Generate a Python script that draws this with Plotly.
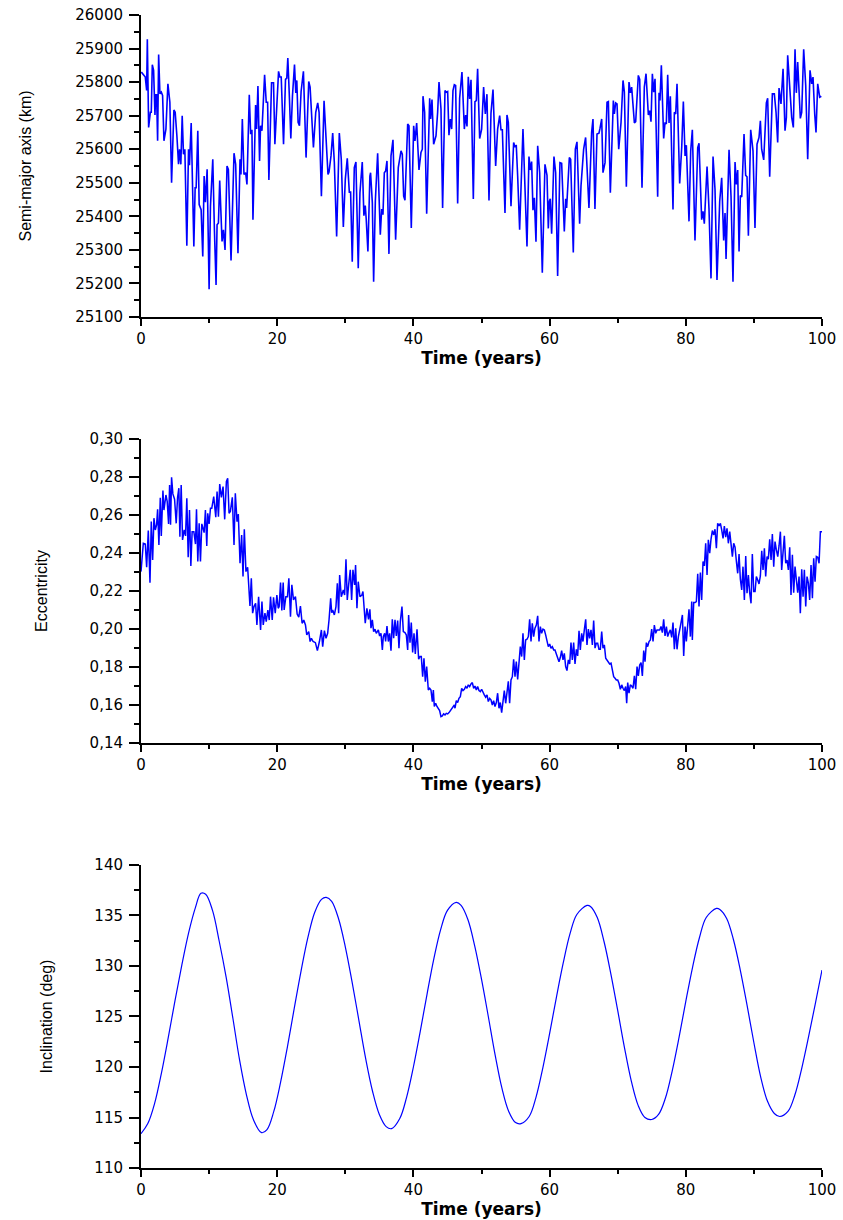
import plotly.graph_objects as go

# ---------------- Semi-major axis (km) ----------------
t_a1 = [0.05,0.63,0.83,0.93,1.12,1.37,1.51,1.66,1.85,2.05,
        2.15,2.29,2.44,2.59,2.78,2.98,3.17,3.37,3.66,3.95,
        4.24,4.49,4.83,5.02,5.27,5.51,5.66,5.85,6.05,6.24,
        6.44,6.73,6.98,7.12,7.37,7.56,7.76,7.95,8.10,8.34,
        8.54,8.83,9.07,9.27,9.46,9.71,10.0,10.2,10.54,10.78,
        11.02,11.17,11.37,11.56,11.9,12.1,12.34,12.63,12.83,13.22,
        13.66,13.9,14.24,14.54,14.68,14.88,15.12,15.37,15.56,15.9,
        16.1,16.29,16.44,16.83,16.98,17.17,17.41,17.56,17.76,18.15,
        18.39,18.59,18.78,19.17,19.46,19.66,19.95,20.2,20.39,20.59,
        20.93,21.22,21.41,21.56,21.8,22.0,22.24,22.54,22.73,22.88,
        23.07,23.27,23.51,23.85,24.24,24.63,24.83,25.02,25.32,25.66,
        25.95,26.15,26.49,26.88,27.17,27.46,27.61,27.9,28.15,28.39,
        28.73,29.12,29.41,29.71,30.0,30.29,30.59,30.78,31.02,31.32,
        31.56,31.9,32.15,32.49,32.73,32.93,33.07,33.32,33.61,33.71]
a_km1 = [25830,25815,25775,25928,25665,25710,25710,25852,25835,25702,
         25762,25762,25625,25882,25765,25770,25760,25625,25660,25795,
         25740,25500,25717,25710,25640,25555,25600,25555,25700,25585,
         25600,25312,25600,25552,25678,25520,25310,25485,25485,25655,
         25435,25420,25280,25520,25442,25540,25183,25430,25570,25360,
         25195,25375,25380,25507,25325,25360,25300,25550,25540,25268,
         25588,25555,25290,25570,25525,25690,25525,25530,25495,25762,
         25645,25658,25390,25732,25660,25788,25565,25670,25655,25822,
         25740,25740,25508,25798,25798,25615,25746,25832,25815,25815,
         25615,25808,25812,25872,25750,25632,25758,25852,25768,25805,
         25680,25670,25772,25832,25575,25802,25785,25700,25605,25710,
         25738,25710,25460,25744,25620,25525,25532,25580,25648,25560,
         25340,25648,25570,25368,25510,25573,25472,25472,25265,25545,
         25562,25245,25470,25562,25402,25432,25392,25295,25520,25530]

t_a2 = [33.97,34.16,34.41,34.75,35.14,35.34,35.53,35.73,35.92,36.12,
        36.41,36.71,37.0,37.39,37.78,38.18,38.37,38.57,38.76,39.16,
        39.35,39.69,40.04,40.23,40.48,40.82,41.11,41.31,41.41,41.65,
        41.95,42.39,42.53,42.73,42.97,43.32,43.56,43.76,44.05,44.29,
        44.64,44.83,45.03,45.22,45.42,45.62,45.81,46.01,46.2,46.5,
        46.79,47.13,47.48,47.67,47.87,48.06,48.26,48.46,48.8,49.04,
        49.24,49.43,49.73,50.02,50.31,50.56,50.8,51.1,51.39,51.69,
        52.08,52.37,52.67,52.86,53.06,53.45,53.74,53.94,54.33,54.72,
        54.92,55.11,55.31,55.6,56.09,56.38,56.68,56.97,57.17,57.36,
        57.56,57.76,58.0,58.25,58.54,58.93,59.32,59.62,59.81,59.96,
        60.1,60.3,60.64,60.89,61.18,61.52,61.77,62.16,62.36,62.5,
        62.9,63.09,63.48,63.78,64.02,64.41,64.61,65.0,65.29,65.78,
        66.17,66.37,66.66,66.96,67.25,67.4]
a_km2 = [25440,25205,25445,25588,25345,25422,25405,25530,25535,25565,
         25288,25580,25628,25330,25545,25595,25585,25460,25448,25675,
         25670,25365,25670,25625,25678,25538,25590,25600,25758,25710,
         25408,25752,25690,25748,25615,25640,25710,25800,25720,25425,
         25775,25770,25772,25642,25690,25660,25775,25792,25790,25438,
         25752,25830,25660,25702,25668,25816,25750,25807,25452,25742,
         25745,25840,25632,25660,25785,25705,25764,25447,25707,25778,
         25550,25660,25700,25658,25658,25410,25702,25680,25430,25620,
         25608,25610,25520,25360,25660,25505,25310,25578,25538,25563,
         25418,25455,25324,25610,25530,25232,25555,25522,25364,25445,
         25452,25348,25578,25530,25222,25560,25558,25355,25452,25425,
         25575,25570,25292,25600,25622,25378,25490,25600,25635,25425,
         25650,25690,25422,25645,25648,25662]

t_a3 = [67.65,67.84,68.14,68.43,68.63,68.92,69.36,69.51,69.7,69.9,
        70.15,70.49,70.78,70.98,71.27,71.66,71.86,72.05,72.45,72.64,
        73.03,73.23,73.57,73.91,74.16,74.5,74.7,74.89,75.09,75.28,
        75.48,75.87,76.07,76.21,76.41,76.75,76.95,77.14,77.34,77.54,
        77.73,78.12,78.32,78.52,78.71,79.1,79.4,79.64,79.89,80.08,
        80.47,80.72,80.96,81.35,81.75,81.94,82.33,82.53,82.72,83.12,
        83.41,83.7,84.0,84.29,84.58,84.98,85.27,85.56,85.76,85.91,
        86.35,86.64,86.93,87.23,87.42,87.62,87.82,88.01,88.21,88.55,
        88.79,88.99,89.19,89.53,89.87,90.16,90.46,90.75,90.95,91.14,
        91.44,91.83,92.02,92.32,92.71,93.0,93.25,93.49,93.69,93.98,
        94.28,94.57,94.77,94.96,95.26,95.55,95.79,96.04,96.23,96.43,
        96.82,97.02,97.31,97.61,97.9,98.24,98.49,98.68,98.93,99.12,
        99.37,99.66,99.9]
a_km3 = [25690,25530,25560,25740,25742,25470,25745,25705,25738,25735,
         25600,25680,25805,25770,25488,25800,25768,25785,25678,25682,
         25820,25808,25485,25785,25825,25702,25715,25682,25825,25770,
         25810,25458,25768,25745,25850,25632,25680,25675,25822,25678,
         25758,25420,25710,25705,25795,25498,25605,25742,25580,25612,
         25385,25595,25658,25328,25605,25618,25390,25415,25378,25548,
         25420,25215,25578,25480,25210,25445,25515,25328,25410,25273,
         25598,25460,25205,25562,25495,25538,25295,25462,25458,25645,
         25522,25518,25342,25658,25595,25365,25615,25635,25685,25600,
         25568,25738,25752,25518,25765,25765,25710,25620,25782,25735,
         25840,25655,25695,25880,25770,25695,25665,25898,25768,25860,
         25692,25710,25898,25790,25570,25835,25795,25815,25705,25650,
         25795,25755,25758]

# ---------------- Eccentricity ----------------
t_e1 = [0.0,0.34,0.63,0.83,1.07,1.32,1.51,1.71,1.90,2.10,
        2.29,2.44,2.63,2.83,2.98,3.22,3.37,3.66,3.85,4.05,
        4.20,4.34,4.49,4.68,4.93,5.17,5.37,5.56,5.71,5.90,
        6.10,6.34,6.54,6.73,6.93,7.12,7.32,7.51,7.76,8.00,
        8.15,8.34,8.54,8.73,8.93,9.12,9.27,9.46,9.66,9.80,
        10.0,10.2,10.39,10.68,10.98,11.17,11.37,11.56,11.80,12.05,
        12.29,12.54,12.73,12.93,13.12,13.41,13.66,13.85,14.10,14.29,
        14.54,14.78,14.98,15.17,15.41,15.66,16.0,16.20,16.39,16.59,
        16.83,17.02,17.27,17.56,17.76,17.95,18.20,18.39,18.63,18.83,
        19.02,19.27,19.46,19.71,19.95,20.15,20.29,20.49,20.68,20.88,
        21.02,21.27,21.51,21.71,21.95,22.15,22.39,22.68,22.93,23.17,
        23.41,23.66,23.90,24.15,24.34,24.63,24.83,25.02,25.27,25.61,
        25.90,26.20,26.49,26.68,26.93,27.17,27.41,27.61,27.85,28.0,
        28.15,28.39,28.63,28.83,29.02,29.17,29.41,29.71,29.90,30.10,
        30.29,30.49,30.73,30.93,31.12,31.37,31.51,31.71,31.90,32.15,
        32.44,32.59,32.78,32.93,33.17,33.41,33.61]
ecc1 = [0.2302,0.2451,0.2447,0.2325,0.2518,0.2244,0.2565,0.2363,0.2583,0.2521,
        0.2548,0.2630,0.2442,0.2691,0.2490,0.2728,0.2626,0.2705,0.2670,0.2553,
        0.2758,0.2548,0.2798,0.2711,0.2683,0.2556,0.2693,0.2741,0.2486,0.2758,
        0.2469,0.2521,0.2490,0.2688,0.2377,0.2626,0.2332,0.2512,0.2512,0.2447,
        0.2630,0.2355,0.2556,0.2355,0.2553,0.2530,0.2507,0.2626,0.2437,0.2609,
        0.2553,0.2635,0.2635,0.2697,0.2588,0.2723,0.2591,0.2763,0.2693,0.2749,
        0.2577,0.2776,0.2793,0.2609,0.2618,0.2693,0.2442,0.2714,0.2565,0.2605,
        0.2346,0.2495,0.2276,0.2525,0.2302,0.2325,0.2121,0.2267,0.2083,0.2118,
        0.2135,0.2021,0.2170,0.1995,0.2144,0.2021,0.2083,0.2039,0.2100,0.2047,
        0.2170,0.2047,0.2167,0.2083,0.2179,0.2109,0.2118,0.2244,0.2097,0.2244,
        0.2100,0.2170,0.2170,0.2267,0.2065,0.2232,0.2153,0.2170,0.2079,0.2062,
        0.2121,0.2030,0.2047,0.2021,0.1969,0.1986,0.1934,0.1951,0.1934,0.1928,
        0.1886,0.1934,0.1995,0.1907,0.1991,0.1951,0.1977,0.2047,0.2162,0.2086,
        0.2100,0.2074,0.2118,0.2241,0.2083,0.2284,0.2170,0.2205,0.2179,0.2367,
        0.2153,0.2232,0.2311,0.2153,0.2311,0.2232,0.2337,0.2109,0.2249,0.2170,
        0.2179,0.2197,0.2100,0.2030,0.2109,0.2051,0.2104]

t_e2 = [33.77,33.97,34.16,34.36,34.55,34.85,35.04,35.24,35.44,35.58,
        35.78,35.92,36.12,36.32,36.51,36.71,36.90,37.10,37.30,37.49,
        37.69,37.88,38.08,38.32,38.52,38.76,38.96,39.16,39.30,39.50,
        39.69,39.89,40.09,40.28,40.53,40.77,40.97,41.16,41.36,41.55,
        41.75,41.95,42.19,42.39,42.58,42.78,42.93,43.07,43.27,43.46,
        43.66,43.85,44.05,44.25,44.44,44.64,44.83,45.03,45.23,45.42,
        45.62,45.81,46.01,46.11,46.30,46.50,46.69,46.89,47.09,47.28,
        47.48,47.67,47.87,48.06,48.26,48.46,48.65,48.85,49.04,49.24,
        49.43,49.63,49.83,50.02,50.22,50.41,50.61,50.81,51.0,51.20,
        51.39,51.59,51.78,51.98,52.18,52.37,52.57,52.76,52.96,53.16,
        53.35,53.55,53.74,53.94,54.13,54.33,54.53,54.72,54.92,55.11,
        55.31,55.50,55.70,55.90,56.09,56.29,56.48,56.68,56.88,57.07,
        57.27,57.46,57.66,57.85,58.05,58.25,58.44,58.64,58.83,59.03,
        59.23,59.42,59.62,59.81,60.01,60.20,60.40,60.60,60.79,60.99,
        61.18,61.38,61.58,61.77,61.97,62.16,62.36,62.55,62.75,62.95,
        63.14,63.34,63.53,63.73,63.93,64.12,64.32,64.51,64.71,64.90,
        65.10,65.30,65.49,65.69,65.88,66.08,66.28,66.47,66.67,66.86,
        67.06,67.25]
ecc2 = [0.2004,0.2048,0.1986,0.1999,0.1977,0.1995,0.1963,0.1977,0.1890,0.1960,
        0.1977,0.1934,0.2016,0.1934,0.1977,0.1886,0.2051,0.1951,0.2048,0.1963,
        0.2044,0.1899,0.2039,0.2118,0.1986,0.1981,0.1969,0.1890,0.2074,0.1928,
        0.2034,0.1876,0.1977,0.1869,0.1999,0.1841,0.1855,0.1855,0.1749,0.1846,
        0.1723,0.1802,0.1679,0.1688,0.1679,0.1618,0.1679,0.1592,0.1609,0.1592,
        0.1577,0.1571,0.1539,0.1542,0.1553,0.1548,0.1556,0.1553,0.1560,0.1571,
        0.1577,0.1592,0.1600,0.1583,0.1623,0.1613,0.1635,0.1644,0.1688,0.1676,
        0.1683,0.1697,0.1688,0.1706,0.1697,0.1711,0.1718,0.1688,0.1700,0.1679,
        0.1697,0.1676,0.1670,0.1683,0.1662,0.1653,0.1641,0.1653,0.1618,0.1635,
        0.1627,0.1600,0.1623,0.1592,0.1613,0.1662,0.1583,0.1613,0.1560,0.1627,
        0.1676,0.1609,0.1662,0.1725,0.1609,0.1732,0.1749,0.1841,0.1749,0.1828,
        0.1735,0.1816,0.1907,0.1855,0.1977,0.1837,0.1942,0.1946,0.1960,0.2051,
        0.1934,0.2030,0.1960,0.2004,0.2021,0.2069,0.1934,0.2013,0.1977,0.1999,
        0.1995,0.1969,0.1928,0.1907,0.1921,0.1899,0.1907,0.1890,0.1890,0.1872,
        0.1855,0.1828,0.1851,0.1886,0.1837,0.1872,0.1802,0.1781,0.1837,0.1816,
        0.1928,0.1837,0.1928,0.1816,0.1893,0.1858,0.1991,0.1890,0.1977,0.1934,
        0.1995,0.2051,0.1916,0.1999,0.1951,0.1995,0.1916,0.2044,0.1899,0.1925,
        0.1925,0.1893]

t_e3 = [67.45,67.65,67.84,68.04,68.24,68.43,68.63,68.82,69.02,69.22,
        69.41,69.61,69.80,70.0,70.19,70.39,70.59,70.78,70.98,71.17,
        71.32,71.47,71.66,71.86,72.05,72.25,72.45,72.64,72.84,73.03,
        73.23,73.43,73.62,73.82,74.01,74.21,74.40,74.60,74.80,74.99,
        75.19,75.38,75.58,75.77,75.97,76.17,76.36,76.56,76.75,76.95,
        77.15,77.34,77.54,77.73,77.93,78.12,78.32,78.52,78.71,78.91,
        79.20,79.50,79.69,79.89,80.08,80.28,80.47,80.67,80.87,80.96,
        81.16,81.36,81.55,81.75,81.94,82.14,82.33,82.53,82.73,82.92,
        83.12,83.31,83.51,83.70,83.90,84.10,84.29,84.49,84.68,84.88,
        85.08,85.27,85.47,85.66,85.86,86.05,86.25,86.45,86.64,86.84,
        87.03,87.23,87.43,87.62,87.82,88.01,88.21,88.40,88.60,88.80,
        88.99,89.19,89.38,89.58,89.77,89.97,90.17,90.36,90.56,90.75,
        90.95,91.15,91.34,91.54,91.73,91.93,92.12,92.32,92.52,92.71,
        92.91,93.10,93.30,93.50,93.69,93.89,94.08,94.28,94.47,94.67,
        94.87,95.06,95.26,95.45,95.65,95.84,96.04,96.24,96.43,96.63,
        96.82,97.02,97.22,97.41,97.61,97.80,98.0,98.19,98.39,98.59,
        98.78,98.98,99.17,99.37,99.57,99.76,100.0]
ecc3 = [0.1893,0.1986,0.1899,0.1916,0.1846,0.1837,0.1828,0.1816,0.1820,0.1784,
        0.1749,0.1741,0.1732,0.1732,0.1714,0.1683,0.1706,0.1688,0.1676,0.1697,
        0.1609,0.1718,0.1662,0.1706,0.1700,0.1688,0.1753,0.1683,0.1802,0.1753,
        0.1811,0.1823,0.1753,0.1886,0.1828,0.1928,0.1907,0.1934,0.1942,0.1999,
        0.1934,0.2021,0.1977,0.1995,0.1995,0.1995,0.2013,0.1981,0.2051,0.1963,
        0.2013,0.1960,0.1981,0.1995,0.1956,0.2034,0.1893,0.2004,0.1893,0.1960,
        0.2013,0.2074,0.1858,0.2013,0.1934,0.2030,0.2104,0.1960,0.2144,0.1942,
        0.2139,0.2139,0.2144,0.2290,0.2118,0.2297,0.2153,0.2355,0.2332,0.2451,
        0.2284,0.2469,0.2399,0.2472,0.2518,0.2495,0.2525,0.2425,0.2556,0.2542,
        0.2556,0.2521,0.2477,0.2542,0.2483,0.2530,0.2451,0.2512,0.2437,0.2381,
        0.2451,0.2430,0.2355,0.2293,0.2395,0.2262,0.2206,0.2328,0.2153,0.2384,
        0.2188,0.2284,0.2191,0.2135,0.2395,0.2197,0.2197,0.2276,0.2258,0.2237,
        0.2279,0.2412,0.2311,0.2425,0.2276,0.2381,0.2367,0.2472,0.2363,0.2500,
        0.2328,0.2460,0.2416,0.2381,0.2437,0.2512,0.2311,0.2416,0.2490,0.2346,
        0.2363,0.2311,0.2430,0.2179,0.2390,0.2191,0.2328,0.2258,0.2191,0.2276,
        0.2083,0.2314,0.2170,0.2311,0.2118,0.2276,0.2241,0.2153,0.2337,0.2162,
        0.2372,0.2249,0.2381,0.2377,0.2346,0.2512,0.2512]

# ---------------- Inclination (deg) ----------------
t_inc = [0,1,2,3,4,5,6,7,8,8.8,9.5,10.5,11.5,12.5,13.5,14.5,15.5,16.5,17.7,18.5,
         19.5,20.5,21.5,22.5,23.5,24.5,25.5,26.5,27.2,28,29,30,31,32,33,34,35,36,36.8,
         38,39,40,41,42,43,44,45,46.3,47,48,49,50,51,52,53,54,55,55.8,
         57,58,59,60,61,62,63,64,65.5,66,67,68,69,70,71,72,73,74,75,
         76,77,78,79,80,81,82,83,84.5,85,86,87,88,89,90,91,92,93,93.8,
         95,96,97,98,99,100]
inc = [113.4,114.4,116.4,119.4,122.9,126.6,130.1,133.3,135.8,137.2,137.1,135.5,132.4,128.9,124.8,120.6,117.2,114.8,113.5,113.8,
       115.6,118.5,122.0,125.8,129.5,132.8,135.3,136.6,136.8,136.4,134.7,131.9,128.4,124.6,120.8,117.6,115.3,114.1,113.9,
       114.9,117.0,120.0,123.5,127.2,130.7,133.6,135.5,136.3,136.0,134.6,132.0,128.7,125.0,121.2,117.9,115.6,114.5,114.4,
       115.1,117.0,119.9,123.3,126.9,130.3,133.2,135.1,136.0,135.9,134.8,132.4,129.2,125.6,121.9,118.6,116.2,115.0,114.8,
       115.3,116.9,119.6,122.9,126.5,129.9,132.8,134.8,135.7,135.6,134.7,132.6,129.6,126.1,122.4,119.0,116.6,115.4,115.1,
       115.6,117.2,119.8,122.9,126.2,129.6]

x_ticks = [0, 20, 40, 60, 80, 100]

t_a = t_a1 + t_a2 + t_a3
a_km = a_km1 + a_km2 + a_km3
t_e = t_e1 + t_e2 + t_e3
ecc = ecc1 + ecc2 + ecc3

BLUE = "#0000FF"
fig = go.Figure()
fig.add_trace(go.Scatter(x=t_a, y=a_km, mode="lines",
                         line=dict(color=BLUE, width=1.6), xaxis="x", yaxis="y"))
fig.add_trace(go.Scatter(x=t_e, y=ecc, mode="lines",
                         line=dict(color=BLUE, width=1.5), xaxis="x2", yaxis="y2"))
fig.add_trace(go.Scatter(x=t_inc, y=inc, mode="lines", line_shape="spline",
                         line=dict(color=BLUE, width=1.2), xaxis="x3", yaxis="y3"))

tick_font = dict(family="DejaVu Sans", size=15, color="black")
ytitle_font = dict(family="Liberation Sans", size=16, color="black")
xtitle_font = dict(family="DejaVu Sans", size=17, color="black", weight="bold")

def xaxis(anchor):
    return dict(anchor=anchor, domain=[0, 1], range=[0, 100], tickvals=x_ticks,
                showline=True, linecolor="black", linewidth=2, ticks="outside",
                ticklen=7, tickwidth=1.5, tickcolor="black", tickfont=tick_font,
                minor=dict(ticks="outside", dtick=10, ticklen=4, tickwidth=1.5, tickcolor="black"),
                showgrid=False, zeroline=False, automargin=False,
                title=dict(text="Time (years)", font=xtitle_font, standoff=2))

def yaxis(anchor, dom, rng, dtick, fmt, title, standoff):
    return dict(anchor=anchor, domain=dom, range=rng, dtick=dtick, tick0=rng[0], tickformat=fmt,
                showline=True, linecolor="black", linewidth=2, ticks="outside",
                ticklen=10, tickwidth=1.5, tickcolor="black", tickfont=tick_font,
                ticklabelstandoff=3,
                minor=dict(ticks="outside", dtick=dtick / 2, ticklen=5, tickwidth=1.5, tickcolor="black"),
                showgrid=False, zeroline=False, automargin=False,
                title=dict(text=title, font=ytitle_font, standoff=standoff))

fig.update_layout(
    width=843, height=1220,
    margin=dict(l=141, r=21, t=15, b=52),
    paper_bgcolor="white", plot_bgcolor="white",
    showlegend=False,
    separators=",.",
    xaxis=xaxis("y"),
    yaxis=yaxis("x", [0.7381, 1.0], [25100, 26000], 100, "d", "Semi-major axis (km)", 40),
    xaxis2=xaxis("y2"),
    yaxis2=yaxis("x2", [0.3686, 0.6323], [0.14, 0.30], 0.02, ".2f", "Eccentricity", 38),
    xaxis3=xaxis("y3"),
    yaxis3=yaxis("x3", [0.0, 0.2628], [110, 140], 5, "d", "Inclination (deg)", 38),
)

fig.write_html("out.html")
